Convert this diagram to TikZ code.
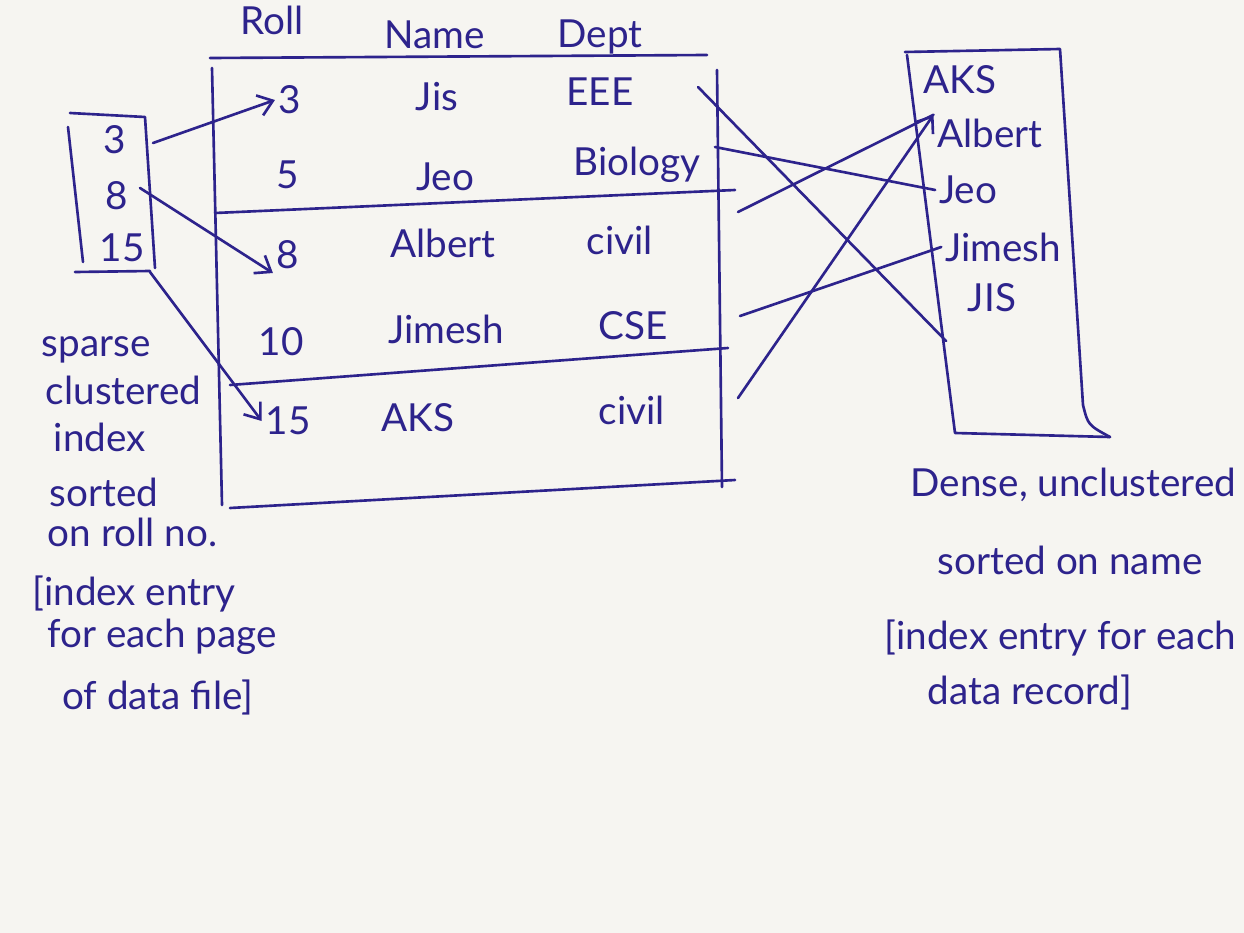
\documentclass[tikz,border=0pt]{standalone}
\usepackage{fontspec}
\setmainfont{Lato}
\usetikzlibrary{arrows.meta,calc}
\definecolor{ink}{RGB}{45,35,140}
\definecolor{paper}{RGB}{246,245,241}
\tikzset{
  pen/.style={draw=ink, line width=1.5pt, line cap=round, line join=round},
  arr/.style={pen, -{Straight Barb[length=8pt,width=12pt,line width=1.5pt]}},
  hw/.style={text=ink, font=\fontsize{22}{26}\selectfont, inner sep=2pt},
  tight/.style={inner sep=0pt},
}
\begin{document}
\begin{tikzpicture}[x=0.02cm,y=-0.02cm]
\useasboundingbox (0,0) rectangle (1244,933);
\fill[paper] (0,0) rectangle (1244,933);

% ---- data file (table) ----
\node[hw] (hroll) at (272,20) {Roll};
\node[hw] (hname) at (435,35) {Name};
\node[hw] (hdept) at (600,37) {Dept};

\draw[pen] (210,58) -- (707,55);
\draw[pen] (212,68) -- (222,505);
\draw[pen] (717,70) -- (722,487);
\draw[pen] (215,213) -- (735,190);
\draw[pen] (230,385) -- (728,348);
\draw[pen] (230,508) -- (735,480);

\node[hw] (r3)  at (290,100) {3};
\node[hw] (n3)  at (437,97)  {Jis};
\node[hw] (d3)  at (600,92)  {EEE};
\node[hw] (r5)  at (288,175) {5};
\node[hw] (n5)  at (445,177) {Jeo};
\node[hw] (d5)  at (637,165) {Biology};
\node[hw] (r8)  at (288,255) {8};
\node[hw] (n8)  at (443,243) {Albert};
\node[hw] (d8)  at (620,240) {civil};
\node[hw] (r10) at (281,342) {10};
\node[hw] (n10) at (446,329) {Jimesh};
\node[hw] (d10) at (633,326) {CSE};
\node[hw] (r15) at (288,421) {15};
\node[hw] (n15) at (418,418) {AKS};
\node[hw] (d15) at (632,410) {civil};

% ---- sparse clustered index ----
\draw[pen] (70,113) -- (145,117) -- (155,268);
\draw[pen] (68,127) -- (83,262);
\draw[pen] (75,272) -- (150,271);
\node[hw] (i3)  at (115,140) {3};
\node[hw] (i8)  at (117,196) {8};
\node[hw] (i15) at (122,248) {15};

\coordinate (p3)  at (153,143);
\coordinate (p8)  at (140,188);
\coordinate (p15) at (150,272);
\draw[arr] (p3)  -- (r3.west);
\draw[arr] (p8)  -- (r8.south west);
\draw[arr] (p15) -- (r15.west);

\node[hw, anchor=west] (l1) at (38,350) {sparse};
\node[hw, anchor=west] (l2) at (42,390) {clustered};
\node[hw, anchor=west] (l3) at (50,437) {index};
\node[hw, anchor=west] (l4) at (46,492) {sorted};
\node[hw, anchor=west] (l5) at (44,532) {on roll no.};
\node[hw, tight, anchor=west] (l6) at (32,594) {[index entry};
\node[hw, tight, anchor=west] (l7) at (47,637) {for each page};
\node[hw, tight, anchor=west] (l8) at (62,697) {of data file]};

% ---- dense unclustered index ----
\draw[pen] (905,52) -- (1060,49) -- (1083,405) .. controls (1088,425) .. (1110,437);
\draw[pen] (907,55) -- (955,433) -- (1110,437);
\node[hw] (xAKS)    at (960,80)   {AKS};
\node[hw] (xAlbert) at (990,133)  {Albert};
\node[hw] (xJeo)    at (968,190)  {Jeo};
\node[hw] (xJimesh) at (1003,247) {Jimesh};
\node[hw] (xJIS)    at (992,298)  {JIS};

\coordinate (s1) at (698,87);
\coordinate (s2) at (715,147);
\coordinate (s3) at (738,212);
\coordinate (s4) at (740,316);
\coordinate (s5) at (738,398);
\draw[pen] (s1) -- ($(xJIS.south west)+(-18,25)$);
\draw[pen] (s2) -- (xJeo.west);
\draw[pen] (s3) -- (xAlbert.north west);
\draw[pen] (s4) -- (xJimesh.west);
\draw[arr] (s5) -- (xAlbert.north west);

\node[hw, anchor=east] (rt1) at (1240,485) {Dense, unclustered};
\node[hw] (rt2) at (1070,560) {sorted on name};
\node[hw, anchor=east] (rt3) at (1240,638) {[index entry for each};
\node[hw] (rt4) at (1030,692) {data record]};
\end{tikzpicture}
\end{document}
